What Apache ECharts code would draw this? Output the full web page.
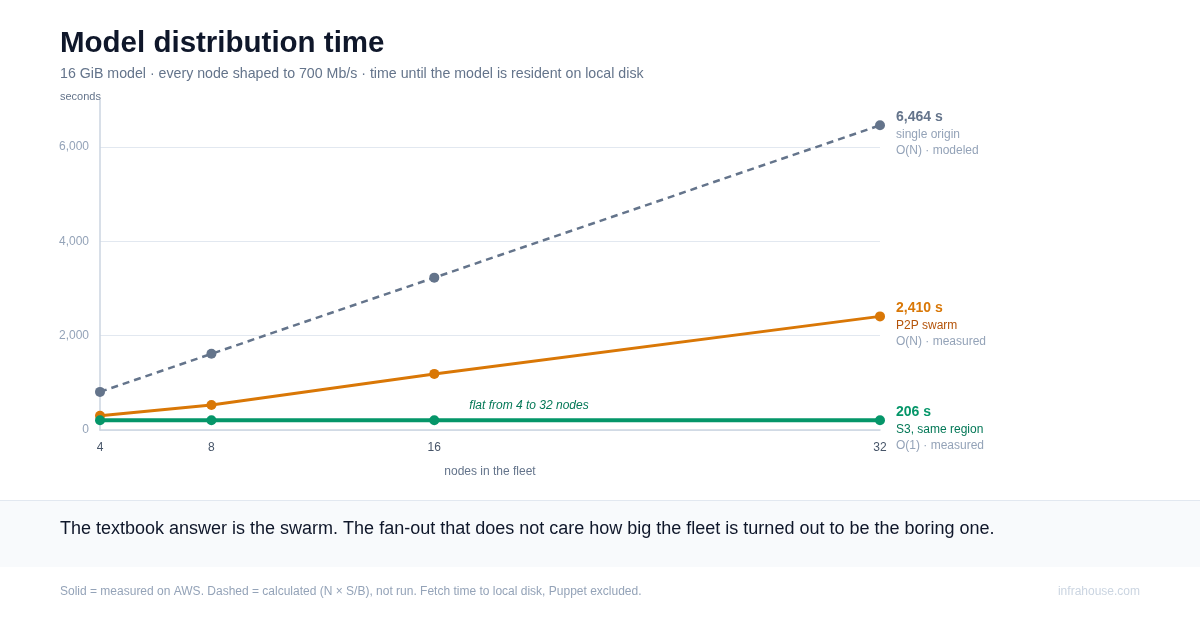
<!DOCTYPE html>
<html>
<head>
<meta charset="utf-8">
<script src="https://cdn.jsdelivr.net/npm/echarts@6/dist/echarts.min.js"></script>
<style>
  html, body { margin: 0; padding: 0; background: #fff; }
  #Chart { width: 1200px; height: 630px; }
</style>
</head>
<body>
<div id="Chart"></div>
<script>
var FONT = '"Liberation Sans", Arial, Helvetica, sans-serif';

// fleet sizes (nodes) and seconds until the model is on local disk
var nodes = [4, 8, 16, 32];
var xTickLabels = [4, 8, 16, 32];
var yTicks = [0, 2000, 4000, 6000];
var singleOrigin = [808, 1616, 3232, 6464];
var p2pSwarm = [300, 530, 1190, 2410];
var s3Region = [206, 206, 206, 206];
var seriesNames = ['single origin', 'P2P swarm', 'S3, same region'];
var seriesNotes = ['O(N) · modeled', 'O(N) · measured', 'O(1) · measured'];

function pairs(vals) {
  return nodes.map(function (n, i) { return [n, vals[i]]; });
}

function endLabel(color, nameColor, idx) {
  return {
    show: true,
    distance: 16,
    offset: [0, 8],
    align: 'left',
    verticalAlign: 'middle',
    fontFamily: FONT,
    formatter: function (p) {
      return '{v|' + p.value[1].toLocaleString('en-US') + ' s}\n{n|' + seriesNames[idx] + '}\n{m|' + seriesNotes[idx] + '}';
    },
    rich: {
      v: { fontSize: 14, fontWeight: 'bold', color: color, fontFamily: FONT, lineHeight: 18 },
      n: { fontSize: 12, color: nameColor, fontFamily: FONT, lineHeight: 17 },
      m: { fontSize: 12, color: '#94a3b8', fontFamily: FONT, lineHeight: 15 }
    }
  };
}

var myChart = echarts.init(document.getElementById('Chart'));
var option = {
  backgroundColor: '#ffffff',
  animation: false,
  textStyle: { fontFamily: FONT },
  title: [{
    text: 'Model distribution time',
    left: 60, top: 29, padding: 0,
    textStyle: { fontSize: 29.5, fontWeight: 'bold', color: '#0f172a', fontFamily: FONT }
  }, {
    text: '16 GiB model · every node shaped to 700 Mb/s · time until the model is resident on local disk',
    left: 60, top: 67, padding: 0,
    textStyle: { fontSize: 14.2, fontWeight: 'normal', color: '#64748b', fontFamily: FONT }
  }, {
    text: 'seconds',
    left: 60, top: 91, padding: 0,
    textStyle: { fontSize: 11, fontWeight: 'normal', color: '#64748b', fontFamily: FONT }
  }],
  graphic: [{
    type: 'rect',
    left: 0, top: 500,
    shape: { width: 1200, height: 67 },
    style: { fill: '#f8fafc' },
    z: -1
  }, {
    type: 'rect',
    left: 0, top: 500,
    shape: { width: 1200, height: 1 },
    style: { fill: '#e2e8f0' }
  }, {
    type: 'text',
    left: 60, top: 520,
    style: {
      text: 'The textbook answer is the swarm. The fan-out that does not care how big the fleet is turned out to be the boring one.',
      font: '18px ' + FONT,
      fill: '#0f172a'
    }
  }, {
    type: 'text',
    left: 60, top: 586,
    style: {
      text: 'Solid = measured on AWS. Dashed = calculated (N × S/B), not run. Fetch time to local disk, Puppet excluded.',
      font: '12px ' + FONT,
      fill: '#94a3b8'
    }
  }, {
    type: 'text',
    right: 60, top: 586,
    style: {
      text: 'infrahouse.com',
      font: '12px ' + FONT,
      fill: '#cbd5e1'
    }
  }],
  grid: { left: 100, right: 320, top: 100, bottom: 200, containLabel: false },
  xAxis: {
    type: 'value',
    min: 4, max: 32, interval: 4,
    name: 'nodes in the fleet',
    nameLocation: 'middle',
    nameGap: 36,
    nameTextStyle: { color: '#64748b', fontSize: 12, fontFamily: FONT },
    axisLine: { show: true, lineStyle: { color: '#cbd5e1', width: 1.5 } },
    axisTick: { show: false },
    splitLine: { show: false },
    axisLabel: {
      color: '#475569', fontSize: 12, margin: 12, fontFamily: FONT,
      formatter: function (v) { return xTickLabels.indexOf(v) >= 0 ? String(v) : ''; }
    }
  },
  yAxis: {
    type: 'value',
    min: 0, max: 7000, interval: 2000,
    axisLine: { show: true, lineStyle: { color: '#cbd5e1', width: 1.5 } },
    axisTick: { show: false },
    splitLine: { show: true, showMaxLine: false, lineStyle: { color: '#e2e8f0', width: 1 } },
    axisLabel: {
      color: '#94a3b8', fontSize: 12, margin: 11, fontFamily: FONT, showMaxLabel: false,
      formatter: function (v) { return yTicks.indexOf(v) >= 0 ? v.toLocaleString('en-US') : ''; }
    }
  },
  series: [{
    name: seriesNames[0],
    type: 'line',
    data: pairs(singleOrigin),
    symbol: 'circle', symbolSize: 10,
    itemStyle: { color: '#64748b' },
    lineStyle: { color: '#64748b', width: 2.5, type: [7, 5] },
    endLabel: endLabel('#64748b', '#94a3b8', 0),
    z: 2
  }, {
    name: seriesNames[1],
    type: 'line',
    data: pairs(p2pSwarm),
    symbol: 'circle', symbolSize: 10,
    itemStyle: { color: '#d97706' },
    lineStyle: { color: '#d97706', width: 3 },
    endLabel: endLabel('#d97706', '#b45309', 1),
    z: 3
  }, {
    name: seriesNames[2],
    type: 'line',
    data: pairs(s3Region),
    symbol: 'circle', symbolSize: 10,
    itemStyle: { color: '#059669' },
    lineStyle: { color: '#059669', width: 4 },
    endLabel: endLabel('#059669', '#047857', 2),
    markPoint: {
      symbol: 'circle',
      symbolSize: 1,
      itemStyle: { color: 'rgba(0,0,0,0)' },
      data: [{ coord: [19.4, 206] }],
      label: {
        show: true,
        position: 'top',
        distance: 8,
        formatter: 'flat from 4 to 32 nodes',
        color: '#047857',
        fontSize: 12,
        fontStyle: 'italic',
        fontFamily: FONT
      }
    },
    z: 4
  }]
};
myChart.setOption(option);
</script>
</body>
</html>
